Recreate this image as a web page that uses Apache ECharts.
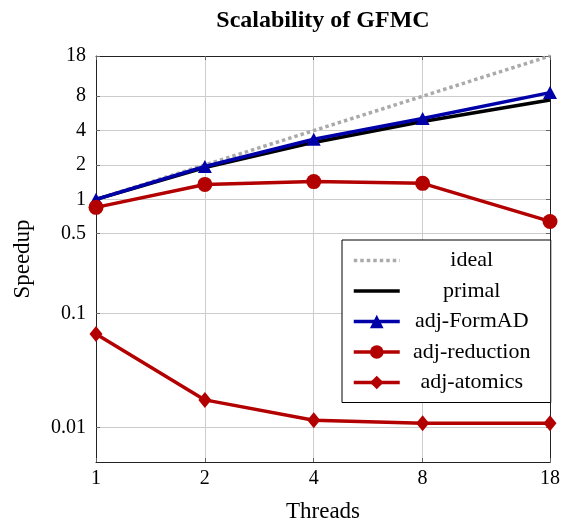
<!DOCTYPE html>
<html>
<head>
<meta charset="utf-8">
<script src="https://cdn.jsdelivr.net/npm/echarts@6/dist/echarts.min.js"></script>
<style>
html,body{margin:0;padding:0;background:#fff;}
#chart{width:563px;height:522px;}
</style>
</head>
<body>
<div id="chart"></div>
<script>
var threads = [1, 2, 4, 8, 18];
var xTicks = [1, 2, 4, 8, 18];
var yTicks = [0.01, 0.1, 0.5, 1, 2, 4, 8, 18];
var ideal = [1, 2, 4, 8, 18];
var primal = [1, 1.9, 3.15, 4.8, 7.4];
var formAD = [1, 1.94, 3.36, 5.1, 8.6];
var reduction = [0.85, 1.35, 1.43, 1.38, 0.64];
var atomics = [0.066, 0.0175, 0.0116, 0.0109, 0.0109];
var titleText = 'Scalability of GFMC';

var FONT = 'Liberation Serif';
function pairs(ys) { return threads.map(function (t, i) { return [t, ys[i]]; }); }

var GRID = {left: 96, right: 13, top: 56, bottom: 60};
var plotCenter = GRID.left + (563 - GRID.left - GRID.right) / 2;
var cv = document.createElement('canvas').getContext('2d');
cv.font = 'bold 24px "' + FONT + '"';
var titleW = cv.measureText(titleText).width;

var chart = echarts.init(document.getElementById('chart'), null, {renderer: 'canvas'});
var tickStyle = {show: true, inside: true, length: 4, lineStyle: {color: '#666', width: 1}};
var lineAxis = {show: true, onZero: false, lineStyle: {color: '#222', width: 1}};
var option = {
  backgroundColor: '#fff',
  animation: false,
  title: {
    text: titleText, left: plotCenter - titleW / 2, top: 9, padding: 0,
    textStyle: {fontFamily: FONT, fontSize: 24, fontWeight: 'bold', color: '#000'}
  },
  grid: {left: GRID.left, right: GRID.right, top: GRID.top, bottom: GRID.bottom,
    containLabel: false, outerBoundsMode: 'none'},
  xAxis: [{
    type: 'log', logBase: 2, min: 1, max: 18,
    name: 'Threads', nameLocation: 'middle', nameGap: 38,
    nameTextStyle: {fontFamily: FONT, fontSize: 23, color: '#000'},
    axisLine: lineAxis,
    axisTick: Object.assign({customValues: xTicks}, tickStyle),
    axisLabel: {customValues: xTicks, fontFamily: FONT, fontSize: 20, color: '#000', margin: 7,
      showMinLabel: true, showMaxLabel: true},
    splitLine: {show: true, lineStyle: {color: '#cccccc', width: 1}}
  }, {
    type: 'log', logBase: 2, min: 1, max: 18, position: 'top',
    axisLine: lineAxis,
    axisTick: Object.assign({customValues: xTicks}, tickStyle),
    axisLabel: {show: false},
    splitLine: {show: false}
  }],
  yAxis: [{
    type: 'log', logBase: 10, min: 0.005, max: 18,
    name: 'Speedup', nameLocation: 'middle', nameGap: 62, nameRotate: 90,
    nameTextStyle: {fontFamily: FONT, fontSize: 23, color: '#000'},
    axisLine: lineAxis,
    axisTick: Object.assign({customValues: yTicks}, tickStyle),
    axisLabel: {customValues: yTicks, fontFamily: FONT, fontSize: 20, color: '#000', margin: 10,
      showMinLabel: true, showMaxLabel: true},
    splitLine: {show: true, lineStyle: {color: '#cccccc', width: 1}}
  }, {
    type: 'log', logBase: 10, min: 0.005, max: 18, position: 'right',
    axisLine: lineAxis,
    axisTick: Object.assign({customValues: yTicks}, tickStyle),
    axisLabel: {show: false},
    splitLine: {show: false}
  }],
  legend: {
    left: 342, top: 240, orient: 'vertical',
    padding: [9.5, 12, 9, 10],
    itemGap: 8.5, itemWidth: 46, itemHeight: 17,
    backgroundColor: '#fff', borderColor: '#000', borderWidth: 1,
    lineStyle: {width: 3.5},
    data: [
      {name: 'ideal', itemStyle: {opacity: 0}},
      {name: 'primal', itemStyle: {opacity: 0}},
      {name: 'adj-FormAD'},
      {name: 'adj-reduction'},
      {name: 'adj-atomics'}
    ],
    formatter: function (n) { return '{c|' + n + '}'; },
    textStyle: {fontFamily: FONT, fontSize: 22, color: '#000', lineHeight: 22,
      rich: {c: {width: 134, align: 'center', fontFamily: FONT, fontSize: 22, lineHeight: 22}}}
  },
  series: [
    {name: 'ideal', type: 'line', data: pairs(ideal), showSymbol: false, symbol: 'none',
      lineStyle: {color: '#aaaaaa', width: 3.5, type: [3.5, 3]}, itemStyle: {color: '#aaaaaa'}, z: 2},
    {name: 'primal', type: 'line', data: pairs(primal), showSymbol: false, symbol: 'none',
      lineStyle: {color: '#000', width: 3.5}, itemStyle: {color: '#000'}, z: 3},
    {name: 'adj-FormAD', type: 'line', data: pairs(formAD), symbol: 'triangle', symbolSize: [14, 13],
      lineStyle: {color: '#0000a8', width: 3.5}, itemStyle: {color: '#0000a8'}, z: 4},
    {name: 'adj-reduction', type: 'line', data: pairs(reduction), symbol: 'circle', symbolSize: 15,
      lineStyle: {color: '#b30000', width: 3.5}, itemStyle: {color: '#b30000'}, z: 5},
    {name: 'adj-atomics', type: 'line', data: pairs(atomics), symbol: 'diamond', symbolSize: [13, 16],
      lineStyle: {color: '#b30000', width: 3.5}, itemStyle: {color: '#b30000'}, z: 6}
  ]
};
chart.setOption(option);
</script>
</body>
</html>
